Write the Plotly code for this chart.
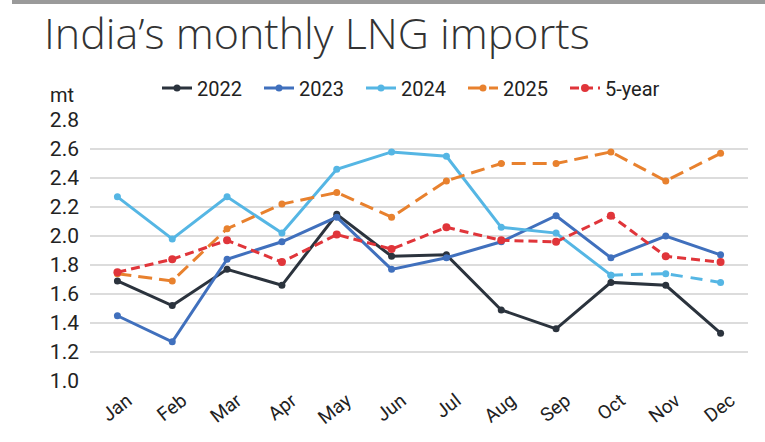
import plotly.graph_objects as go

months = ["Jan", "Feb", "Mar", "Apr", "May", "Jun", "Jul", "Aug", "Sep", "Oct", "Nov", "Dec"]
y2022 = [1.69, 1.52, 1.77, 1.66, 2.15, 1.86, 1.87, 1.49, 1.36, 1.68, 1.66, 1.33]
y2023 = [1.45, 1.27, 1.84, 1.96, 2.13, 1.77, 1.85, 1.96, 2.14, 1.85, 2.00, 1.87]
y2024 = [2.27, 1.98, 2.27, 2.02, 2.46, 2.58, 2.55, 2.06, 2.02, 1.73, 1.74, 1.68]
y2025 = [1.74, 1.69, 2.05, 2.22, 2.30, 2.13, 2.38, 2.50, 2.50, 2.58, 2.38, 2.57]
y5yr = [1.75, 1.84, 1.97, 1.82, 2.01, 1.91, 2.06, 1.97, 1.96, 2.14, 1.86, 1.82]
est_start_2024 = 9  # Oct onwards shown dashed
yticks = [1.0, 1.2, 1.4, 1.6, 1.8, 2.0, 2.2, 2.4, 2.6, 2.8]

C22 = "#2b333d"
C23 = "#4070bd"
C24 = "#55b6e4"
C25 = "#e8812e"
C5 = "#e0353a"

TICKFONT = "Roboto, sans-serif"

W, H = 765, 442
L, R, T, B = 90, 17, 120, 61
pw = W - L - R
ph = H - T - B

fig = go.Figure()


def add(x, y, name, color, dash="solid", size=7, show=True):
    fig.add_trace(go.Scatter(
        x=x, y=y, name=name, mode="lines+markers",
        line=dict(color=color, width=3, dash=dash),
        marker=dict(color=color, size=size),
        showlegend=show, hoverinfo="skip",
    ))


add(months, y2022, "2022", C22)
add(months, y2023, "2023", C23)
add(months[:est_start_2024 + 1], y2024[:est_start_2024 + 1], "2024", C24)
add(months[est_start_2024:], y2024[est_start_2024:], "2024 est", C24, dash="12px,8px", show=False)
add(months, y2025, "2025", C25, dash="14px,7px")
add(months, y5yr, "5-year", C5, dash="9px,5px", size=8)

fig.update_layout(
    width=W, height=H,
    margin=dict(l=L, r=R, t=T, b=B, autoexpand=False),
    paper_bgcolor="white", plot_bgcolor="white",
    title=dict(
        text="India\u2019s monthly LNG imports",
        x=44 / W, xref="container", xanchor="left",
        y=1 - 34 / H, yref="container", yanchor="middle",
        font=dict(family="Open Sans, sans-serif", size=43, color="#333333", weight=300),
        pad=dict(l=0, r=0, t=0, b=0),
    ),
    legend=dict(
        orientation="h", x=(157 - L) / pw, xanchor="left",
        y=1 - 88 / H, yref="container", yanchor="middle",
        font=dict(family=TICKFONT, size=20, color="#222"),
        itemwidth=30, tracegroupgap=0, bgcolor="rgba(0,0,0,0)",
        entrywidth=57, entrywidthmode="pixels",
    ),
    xaxis=dict(
        type="category", range=[-0.5, 11.5], showgrid=False, zeroline=False,
        showline=False, ticks="", tickangle=-38, ticklabelshift=10,
        ticklabelstandoff=4,
        tickfont=dict(family=TICKFONT, size=19, color="#222"),
    ),
    yaxis=dict(
        range=[1.0, 2.8], tickvals=yticks, ticktext=[f"{v:.1f}" for v in yticks],
        showgrid=True, gridcolor="#dcdcdc", gridwidth=2, zeroline=False,
        showline=False, ticks="", ticklabelstandoff=10,
        tickfont=dict(family=TICKFONT, size=21, color="#222"),
    ),
    annotations=[dict(
        text="mt", x=(48 - L) / pw, y=(H - B - 95) / ph, xref="paper", yref="paper",
        xanchor="left", yanchor="middle", showarrow=False,
        font=dict(family=TICKFONT, size=20, color="#222"),
    )],
)

fig.add_shape(type="rect", xref="paper", yref="paper",
              x0=(12 - L) / pw, x1=1.1, y0=1 + (T - 4) / ph, y1=1 + (T + 2) / ph,
              fillcolor="#9a9a9a", line=dict(width=0), layer="above")

fig.write_html("out.html", config={"displayModeBar": False},
               post_script="document.body.style.margin='0';")
